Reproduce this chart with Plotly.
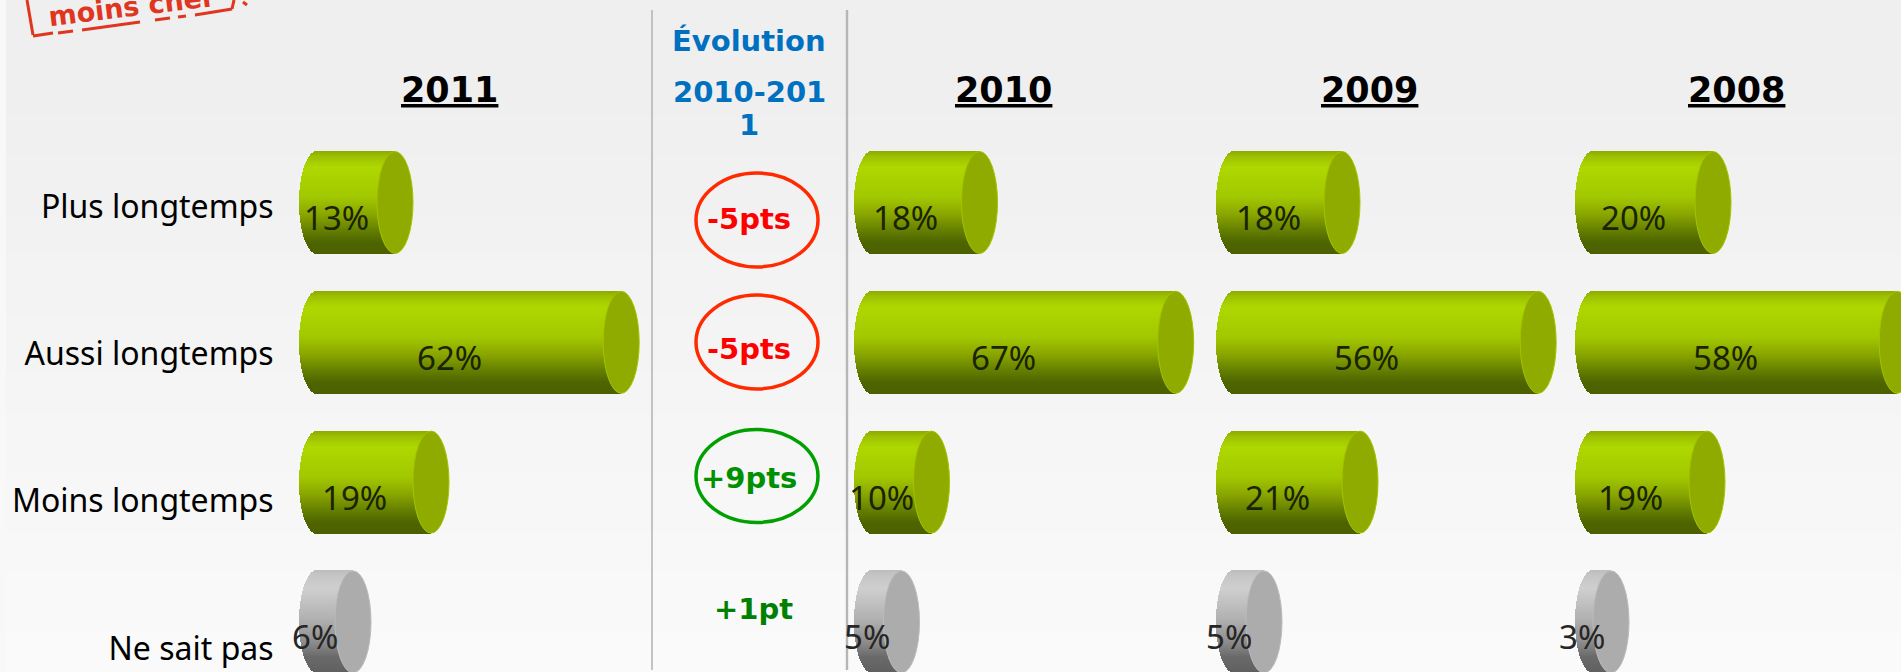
import math
import plotly.graph_objects as go

# ---------- data ----------
categories = ["Plus longtemps", "Aussi longtemps", "Moins longtemps", "Ne sait pas"]
years = ["2011", "2010", "2009", "2008"]
values_2011 = [13, 62, 19, 6]
values_2010 = [18, 67, 10, 5]
values_2009 = [18, 56, 21, 5]
values_2008 = [20, 58, 19, 3]
evolution_labels = ["-5pts", "-5pts", "+9pts", "+1pt"]
evolution_colors = ["#ff0000", "#ff0000", "#009000", "#008000"]

all_values = [values_2011, values_2010, values_2009, values_2008]

# ---------- layout constants (pixels) ----------
W, H = 1901, 672
PLOT_TOP = 130
ROW0, PITCH = 202.5, 139.8
PX_PER_UNIT = 6.0
RX, RY = 18, 51
ZERO_INSET = 18
AXIS_CAP = 50.7   # original chart truncates its value axis here
panel_left = [299, 853.5, 1216, 1575]
panel_right = [650, 1205, 1565, 1901]
heading_x = [449, 1004, 1369, 1736]
N_BANDS = 102
BAND_H = 2 * RY / PITCH

GREEN_STOPS = [(0, "#8fa800"), (0.05, "#9cc000"), (0.16, "#aed800"), (0.45, "#a2c800"),
               (0.62, "#8aa600"), (0.8, "#5f7a00"), (0.9, "#4e6400"), (1, "#4c6000")]
GRAY_STOPS = [(0, "#bdbdbd"), (0.06, "#c6c6c6"), (0.18, "#cfcfcf"), (0.5, "#aeaeae"),
              (0.7, "#8e8e8e"), (0.85, "#6a6a6a"), (1, "#606060")]


def mix(stops, t):
    for (a, ca), (b, cb) in zip(stops, stops[1:]):
        if a <= t <= b:
            f = (t - a) / (b - a)
            rgb = [round(int(ca[i:i + 2], 16) * (1 - f) + int(cb[i:i + 2], 16) * f) for i in (1, 3, 5)]
            return "rgb(%d,%d,%d)" % tuple(rgb)
    return stops[-1][1]


def px(x):
    return x / W


def py(y):
    return 1 - y / H


def label(x, y, text, font, **kw):
    d = dict(xref="paper", yref="paper", x=px(x), y=py(y), text=text, showarrow=False,
             xanchor="center", yanchor="middle", font=font)
    d.update(kw)
    return d


fig = go.Figure()
shapes, annotations = [], []

# ---------- background ----------
for i in range(28):
    y0 = 115 + i * (H - 115) / 28
    y1 = 115 + (i + 1) * (H - 115) / 28
    v = round(240 + 10 * i / 27)
    shapes.append(dict(type="rect", xref="paper", yref="paper", x0=0, x1=1, y0=py(y0), y1=py(y1) - 0.001,
                       fillcolor="rgb(%d,%d,%d)" % (v, v, v), line_width=0, layer="below"))
shapes.append(dict(type="rect", xref="paper", yref="paper", x0=0, x1=px(6), y0=0, y1=1,
                   fillcolor="#f8f8f8", line_width=0, layer="below"))

# ---------- separators ----------
for x, w in [(652, 1.6), (847, 2.4)]:
    shapes.append(dict(type="line", xref="paper", yref="paper", x0=px(x), x1=px(x), y0=py(10), y1=py(670),
                       line=dict(color="#b4b6b8", width=w)))

# ---------- panels ----------
for p, vals in enumerate(all_values):
    suffix = "" if p == 0 else str(p + 1)
    ax_x, ax_y = "x" + suffix, "y" + suffix
    display = [min(v, AXIS_CAP) for v in vals]
    rx_u = RX / PX_PER_UNIT
    for b in range(N_BANDS):
        t = (b + 0.5) / N_BANDS
        inset = rx_u * math.sqrt(max(0, 1 - (2 * t - 1) ** 2))
        colors = [mix(GRAY_STOPS if i == 3 else GREEN_STOPS, t) for i in range(4)]
        fig.add_trace(go.Bar(
            orientation="h", y=[0, 1, 2, 3], x=[d + inset for d in display], base=[-inset] * 4,
            width=BAND_H / N_BANDS * 1.2, offset=-BAND_H / 2 + b * BAND_H / N_BANDS,
            marker=dict(color=colors, line_width=0), xaxis=ax_x, yaxis=ax_y,
            showlegend=False, hoverinfo="skip"))
    for i, d in enumerate(display):
        shapes.append(dict(type="circle", xref=ax_x, yref=ax_y, xsizemode="pixel", ysizemode="pixel",
                           xanchor=d, yanchor=i, x0=-RX, x1=RX, y0=-RY, y1=RY,
                           fillcolor="#acacac" if i == 3 else "#8fab00",
                           line=dict(color="#bbbbbb" if i == 3 else "#a4c400", width=1)))
        annotations.append(dict(xref=ax_x, yref=ax_y, x=d / 2, y=i, xshift=-20, yshift=-15,
                                xanchor="center", yanchor="middle",
                                text=f"{vals[i]}%", showarrow=False,
                                font=dict(family="Noto Sans", size=33, color="#1a2400" if i < 3 else "#262626")))
    x_min = -ZERO_INSET / PX_PER_UNIT
    x_max = (panel_right[p] - panel_left[p] - ZERO_INSET) / PX_PER_UNIT
    xa = dict(domain=[px(panel_left[p]), px(panel_right[p])], range=[x_min, x_max], visible=False,
              anchor=ax_y, fixedrange=True)
    ya = dict(domain=[0, py(PLOT_TOP)], range=[(H - ROW0) / PITCH, (PLOT_TOP - ROW0) / PITCH],
              anchor=ax_x, showgrid=False, zeroline=False, showline=False, fixedrange=True)
    if p == 0:
        ya.update(tickmode="array", tickvals=[0.032, 1.085, 2.135, 3.19], ticktext=categories,
                  ticks="outside", ticklen=18, tickcolor="rgba(0,0,0,0)",
                  tickfont=dict(family="Noto Sans", size=32, color="#000000"))
    else:
        ya.update(showticklabels=False, ticks="")
    fig.layout["xaxis" + suffix] = xa
    fig.layout["yaxis" + suffix] = ya
    annotations.append(label(heading_x[p], 90, f"<u><b>{years[p]}</b></u>",
                             dict(family="DejaVu Sans", size=35, color="#000000")))

# ---------- evolution column ----------
BLUE = "#0070c0"
for txt, y in [("Évolution", 41), ("2010-201", 92), ("1", 125)]:
    annotations.append(label(749, y, f"<b>{txt}</b>", dict(family="DejaVu Sans", size=29, color=BLUE)))
evo_x = [749, 749, 749, 753]
evo_y = [219, 349, 478, 609]
for txt, col, x, y in zip(evolution_labels, evolution_colors, evo_x, evo_y):
    annotations.append(label(x, y, f"<b>{txt}</b>", dict(family="DejaVu Sans", size=29, color=col)))
for cy, ry, col in [(220, 47, "#ff2a00"), (342, 47, "#ff2a00"), (476, 46.5, "#00a000")]:
    shapes.append(dict(type="circle", xref="paper", yref="paper", x0=px(696), x1=px(818), y0=py(cy - ry), y1=py(cy + ry),
                       line=dict(color=col, width=3.5)))

# ---------- stamp ----------
stamp = [((27, 0), (33, 35)), ((33, 36), (53, 33)), ((58, 33), (73, 31)), ((82, 30), (140, 22)),
         ((155, 20), (170, 18)), ((178, 17), (186, 16)), ((195, 15), (232, 9)), ((232, 9), (234, 0)),
         ((243, 2), (247, 5))]
for (a, b), (c, d) in stamp:
    shapes.append(dict(type="line", xref="paper", yref="paper", x0=px(a), x1=px(c), y0=py(b), y1=py(d),
                       line=dict(color="#e0351f", width=3)))
annotations.append(label(132, 7, "<b>moins cher</b>", dict(family="DejaVu Sans", size=27, color="#e0351f"), textangle=-7))

fig.update_layout(width=W, height=H, margin=dict(l=0, r=0, t=0, b=0), barmode="overlay", bargap=0,
                  paper_bgcolor="#efefef", plot_bgcolor="rgba(0,0,0,0)", shapes=shapes, annotations=annotations,
                  showlegend=False)
fig.write_html("out.html", config=dict(displayModeBar=False),
               post_script="document.body.style.margin='0';document.body.style.overflow='hidden';")
